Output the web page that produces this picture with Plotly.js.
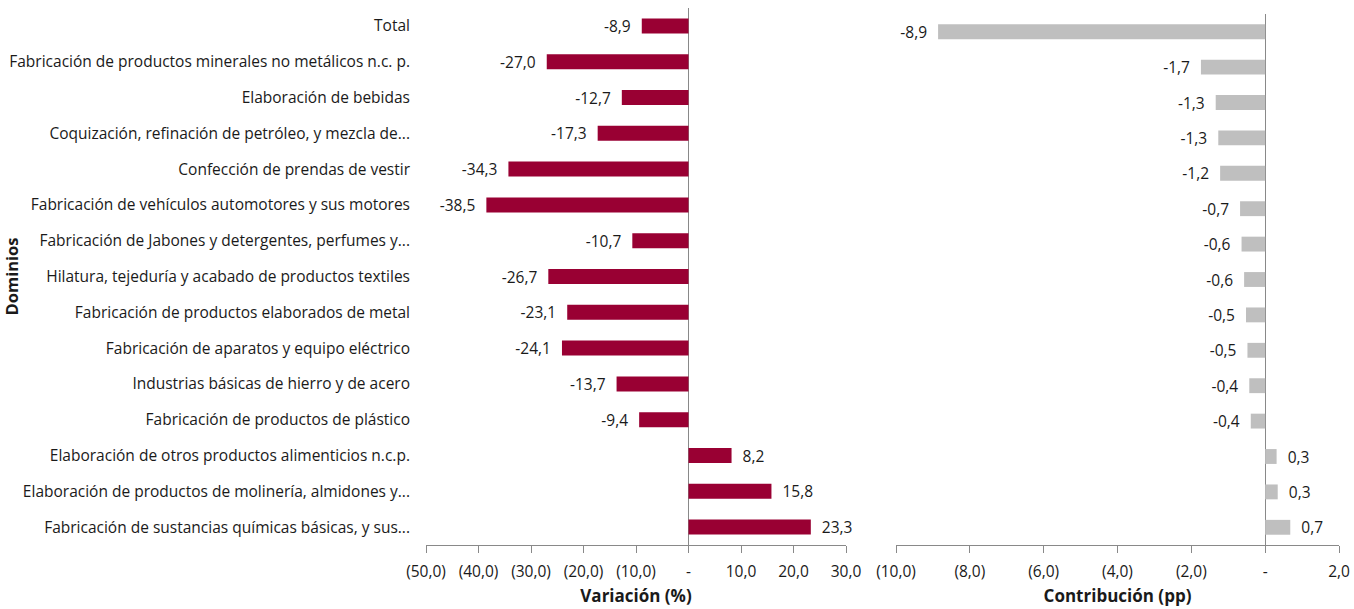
<!DOCTYPE html>
<html>
<head>
<meta charset="utf-8">
<script src="https://cdn.plot.ly/plotly-3.0.1.min.js"></script>
<style>html,body{margin:0;padding:0;background:#fff;}#chart{width:1354px;height:609px;}</style>
</head>
<body>
<div id="chart"></div>
<script>
const categories = [
  "Total",
  "Fabricación de productos minerales no metálicos n.c. p.",
  "Elaboración de bebidas",
  "Coquización, refinación de petróleo, y mezcla de...",
  "Confección de prendas de vestir",
  "Fabricación de vehículos automotores y sus motores",
  "Fabricación de Jabones y detergentes, perfumes y...",
  "Hilatura, tejeduría y acabado de productos textiles",
  "Fabricación de productos elaborados de metal",
  "Fabricación de aparatos y equipo eléctrico",
  "Industrias básicas de hierro y de acero",
  "Fabricación de productos de plástico",
  "Elaboración de otros productos alimenticios n.c.p.",
  "Elaboración de productos de molinería, almidones y...",
  "Fabricación de sustancias químicas básicas, y sus..."
];
const variacion = [-8.9, -27.0, -12.7, -17.3, -34.3, -38.5, -10.7, -26.7, -23.1, -24.1, -13.7, -9.4, 8.2, 15.8, 23.3];
const contribucion = [-8.86, -1.74, -1.34, -1.27, -1.22, -0.68, -0.64, -0.57, -0.52, -0.48, -0.43, -0.39, 0.31, 0.34, 0.68];

const varTickVals = [-50, -40, -30, -20, -10, 0, 10, 20, 30];
const varTickText = ["(50,0)", "(40,0)", "(30,0)", "(20,0)", "(10,0)", "-", "10,0", "20,0", "30,0"];
const conTickVals = [-10, -8, -6, -4, -2, 0, 2];
const conTickText = ["(10,0)", "(8,0)", "(6,0)", "(4,0)", "(2,0)", "-", "2,0"];

const W = 1354, H = 609;
const FONT = "Open Sans, Liberation Sans, sans-serif";
const axisColor = "#898989";
const textColor = "#1a1a1a";
const PAD = "\u00a0\u00a0";
const labelTemplate = v => v < 0 ? "%{x:.1f}" + PAD : PAD + "%{x:.1f}";

const traces = [
  {
    type: "bar", orientation: "h",
    y: categories, x: variacion,
    xaxis: "x", yaxis: "y",
    marker: {color: "#990033"},
    texttemplate: variacion.map(labelTemplate), textposition: "outside", constraintext: "none",
    textfont: {family: FONT, size: 15.5, color: textColor},
    cliponaxis: false, hoverinfo: "x+y"
  },
  {
    type: "bar", orientation: "h",
    y: categories, x: contribucion,
    xaxis: "x2", yaxis: "y2",
    marker: {color: "#BFBFBF"},
    texttemplate: contribucion.map(labelTemplate), textposition: "outside", constraintext: "none",
    textfont: {family: FONT, size: 15.5, color: textColor},
    cliponaxis: false, hoverinfo: "x+y"
  }
];

const layout = {
  width: W, height: H,
  margin: {l: 0, r: 0, t: 0, b: 0},
  paper_bgcolor: "#fff", plot_bgcolor: "#fff",
  separators: ",.",
  showlegend: false,
  bargap: 0.58,
  font: {family: FONT, size: 13, color: textColor},
  xaxis: {
    domain: [426 / W, 846 / W],
    range: [-50, 30], fixedrange: true,
    tickvals: varTickVals, ticktext: varTickText,
    tickfont: {family: FONT, size: 15.5, color: textColor},
    showgrid: false, showline: true, linecolor: axisColor, linewidth: 1,
    ticks: "outside", ticklen: 7, tickcolor: axisColor,
    ticklabelstandoff: 5,
    zeroline: true, zerolinecolor: axisColor, zerolinewidth: 1,
    anchor: "y",
    title: {text: "<b>Variación (%)</b>", font: {family: FONT, size: 17, color: textColor}, standoff: 9},
    automargin: false
  },
  yaxis: {
    domain: [1 - 545 / H, 1 - 8 / H],
    type: "category", autorange: "reversed", fixedrange: true,
    showgrid: false, showline: false, zeroline: false, ticks: "",
    tickfont: {family: FONT, size: 15.5, color: textColor},
    ticklabelstandoff: 15,
    anchor: "x",
    title: {text: "<b>Dominios</b>", font: {family: FONT, size: 16.5, color: textColor}, standoff: 4},
    automargin: false
  },
  xaxis2: {
    domain: [896 / W, 1339 / W],
    range: [-10, 2], fixedrange: true,
    tickvals: conTickVals, ticktext: conTickText,
    tickfont: {family: FONT, size: 15.5, color: textColor},
    showgrid: false, showline: true, linecolor: axisColor, linewidth: 1,
    ticks: "outside", ticklen: 7, tickcolor: axisColor,
    ticklabelstandoff: 5,
    zeroline: true, zerolinecolor: axisColor, zerolinewidth: 1,
    anchor: "y2",
    title: {text: "<b>Contribución (pp)</b>", font: {family: FONT, size: 17, color: textColor}, standoff: 9},
    automargin: false
  },
  yaxis2: {
    domain: [1 - 545 / H, 1 - 14 / H],
    type: "category", autorange: "reversed", fixedrange: true,
    showgrid: false, showline: false, zeroline: false, ticks: "",
    showticklabels: false,
    anchor: "x2", automargin: false
  }
};

Plotly.newPlot("chart", traces, layout, {displayModeBar: false, staticPlot: false});
</script>
</body>
</html>
